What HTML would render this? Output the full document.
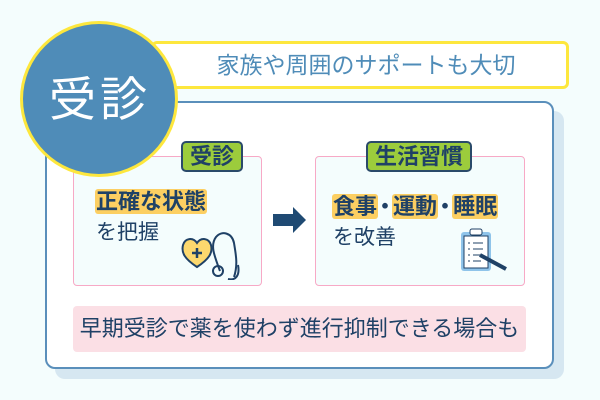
<!DOCTYPE html>
<html><head><meta charset="utf-8"><style>
*{margin:0;padding:0;box-sizing:border-box}
body{width:600px;height:400px;background:#f4fdfd;position:relative;overflow:hidden;font-family:"Liberation Sans","Noto Sans CJK JP",sans-serif;color:#1f4166}
.a{position:absolute}
.hl{background:#fccf62;border-radius:3px;padding:0 1px}
.dot{display:inline-block;margin:0 -4px}
</style></head><body>
<div class="a" style="left:55px;top:111px;width:509px;height:268px;background:#d6e7f1;border-radius:10px"></div>
<div class="a" style="left:45px;top:101px;width:509px;height:268px;background:#fff;border:2px solid #5a8fbb;border-radius:10px"></div>
<div class="a" style="left:151px;top:41px;width:418px;height:48px;background:#fff;border:3px solid #fde73d;border-radius:6px"></div>
<div class="a" style="left:196px;top:50px;width:340px;text-align:center;font-size:23px;color:#4f8cb8;line-height:30px">家族や周囲のサポートも大切</div>
<div class="a" style="left:73px;top:156px;width:189px;height:130px;background:#f4fdfd;border:1.5px solid #f7a9c6;border-radius:4px"></div>
<div class="a" style="left:315px;top:156px;width:210px;height:130px;background:#f4fdfd;border:1.5px solid #f7a9c6;border-radius:4px"></div>
<div class="a" style="left:20px;top:21px;width:158px;height:156px;border-radius:50%;background:#4f8cb8;border:3px solid #fde73d"></div>
<div class="a" style="left:20px;top:74px;width:160px;text-align:center;font-size:47px;color:#fff;line-height:52px;letter-spacing:4px">受診</div>
<div class="a" style="left:181px;top:141px;width:62px;height:31px;background:#9ccc3c;border:2px solid #2a4a6a;border-radius:5px;font-size:22px;font-weight:bold;text-align:center;line-height:27px">受診</div>
<div class="a" style="left:366px;top:141px;width:106px;height:31px;background:#9ccc3c;border:2px solid #2a4a6a;border-radius:5px;font-size:22px;font-weight:bold;text-align:center;line-height:27px">生活習慣</div>
<div class="a" style="left:95px;top:188px;font-size:22px;font-weight:bold;line-height:27px"><span class="hl">正確な状態</span></div>
<div class="a" style="left:96px;top:220px;font-size:21px;line-height:26px">を把握</div>
<div class="a" style="left:332px;top:193px;font-size:22px;font-weight:bold;line-height:27px;white-space:nowrap"><span class="hl">食事</span><span class="dot">・</span><span class="hl">運動</span><span class="dot">・</span><span class="hl">睡眠</span></div>
<div class="a" style="left:333px;top:225px;font-size:21px;line-height:26px">を改善</div>
<svg class="a" style="left:273px;top:207px" width="34" height="26"><polygon points="0,7 20,7 20,0 33,13 20,26 20,19 0,19" fill="#1f4a73"/></svg>
<svg class="a" style="left:180px;top:225px" width="70" height="55" fill="none" stroke="#1f4166" stroke-width="2">
<path d="M17,42 C5,34 1,28 3,20 C5,13 13,12 17,18 C21,12 29,13 31,20 C33,28 29,34 17,42Z" fill="#fcd86e"/>
<path d="M12,28h10M17,23v10" stroke-width="2.5"/>
<path d="M40,46 C34,30 30,20 36,12 C42,5 52,8 54,18 C56,30 58,40 54,52"/>
<circle cx="38" cy="46" r="5"/><path d="M48,54 C56,56 60,50 58,40"/>
</svg>
<svg class="a" style="left:458px;top:228px" width="60" height="45">
<rect x="3" y="4" width="30" height="39" rx="3" fill="#8fc4ea"/>
<rect x="6" y="8" width="24" height="32" fill="#fff" stroke="#1f4166" stroke-width="1"/>
<rect x="12" y="1" width="12" height="6" rx="2" fill="#fff" stroke="#1f4166"/>
<g stroke="#1f4166" stroke-width="1"><path d="M10,15h2M15,15h10M10,21h2M15,21h10M10,27h2M15,27h10M10,33h2M15,33h8"/></g>
<path d="M22,27 L48,41" stroke="#1f4166" stroke-width="4"/>
</svg>
<div class="a" style="left:73px;top:306px;width:453px;height:46px;background:#fbdfe5;border-radius:4px;font-size:22px;text-align:center;line-height:46px;white-space:nowrap">早期受診で薬を使わず進行抑制できる場合も</div>
</body></html>
